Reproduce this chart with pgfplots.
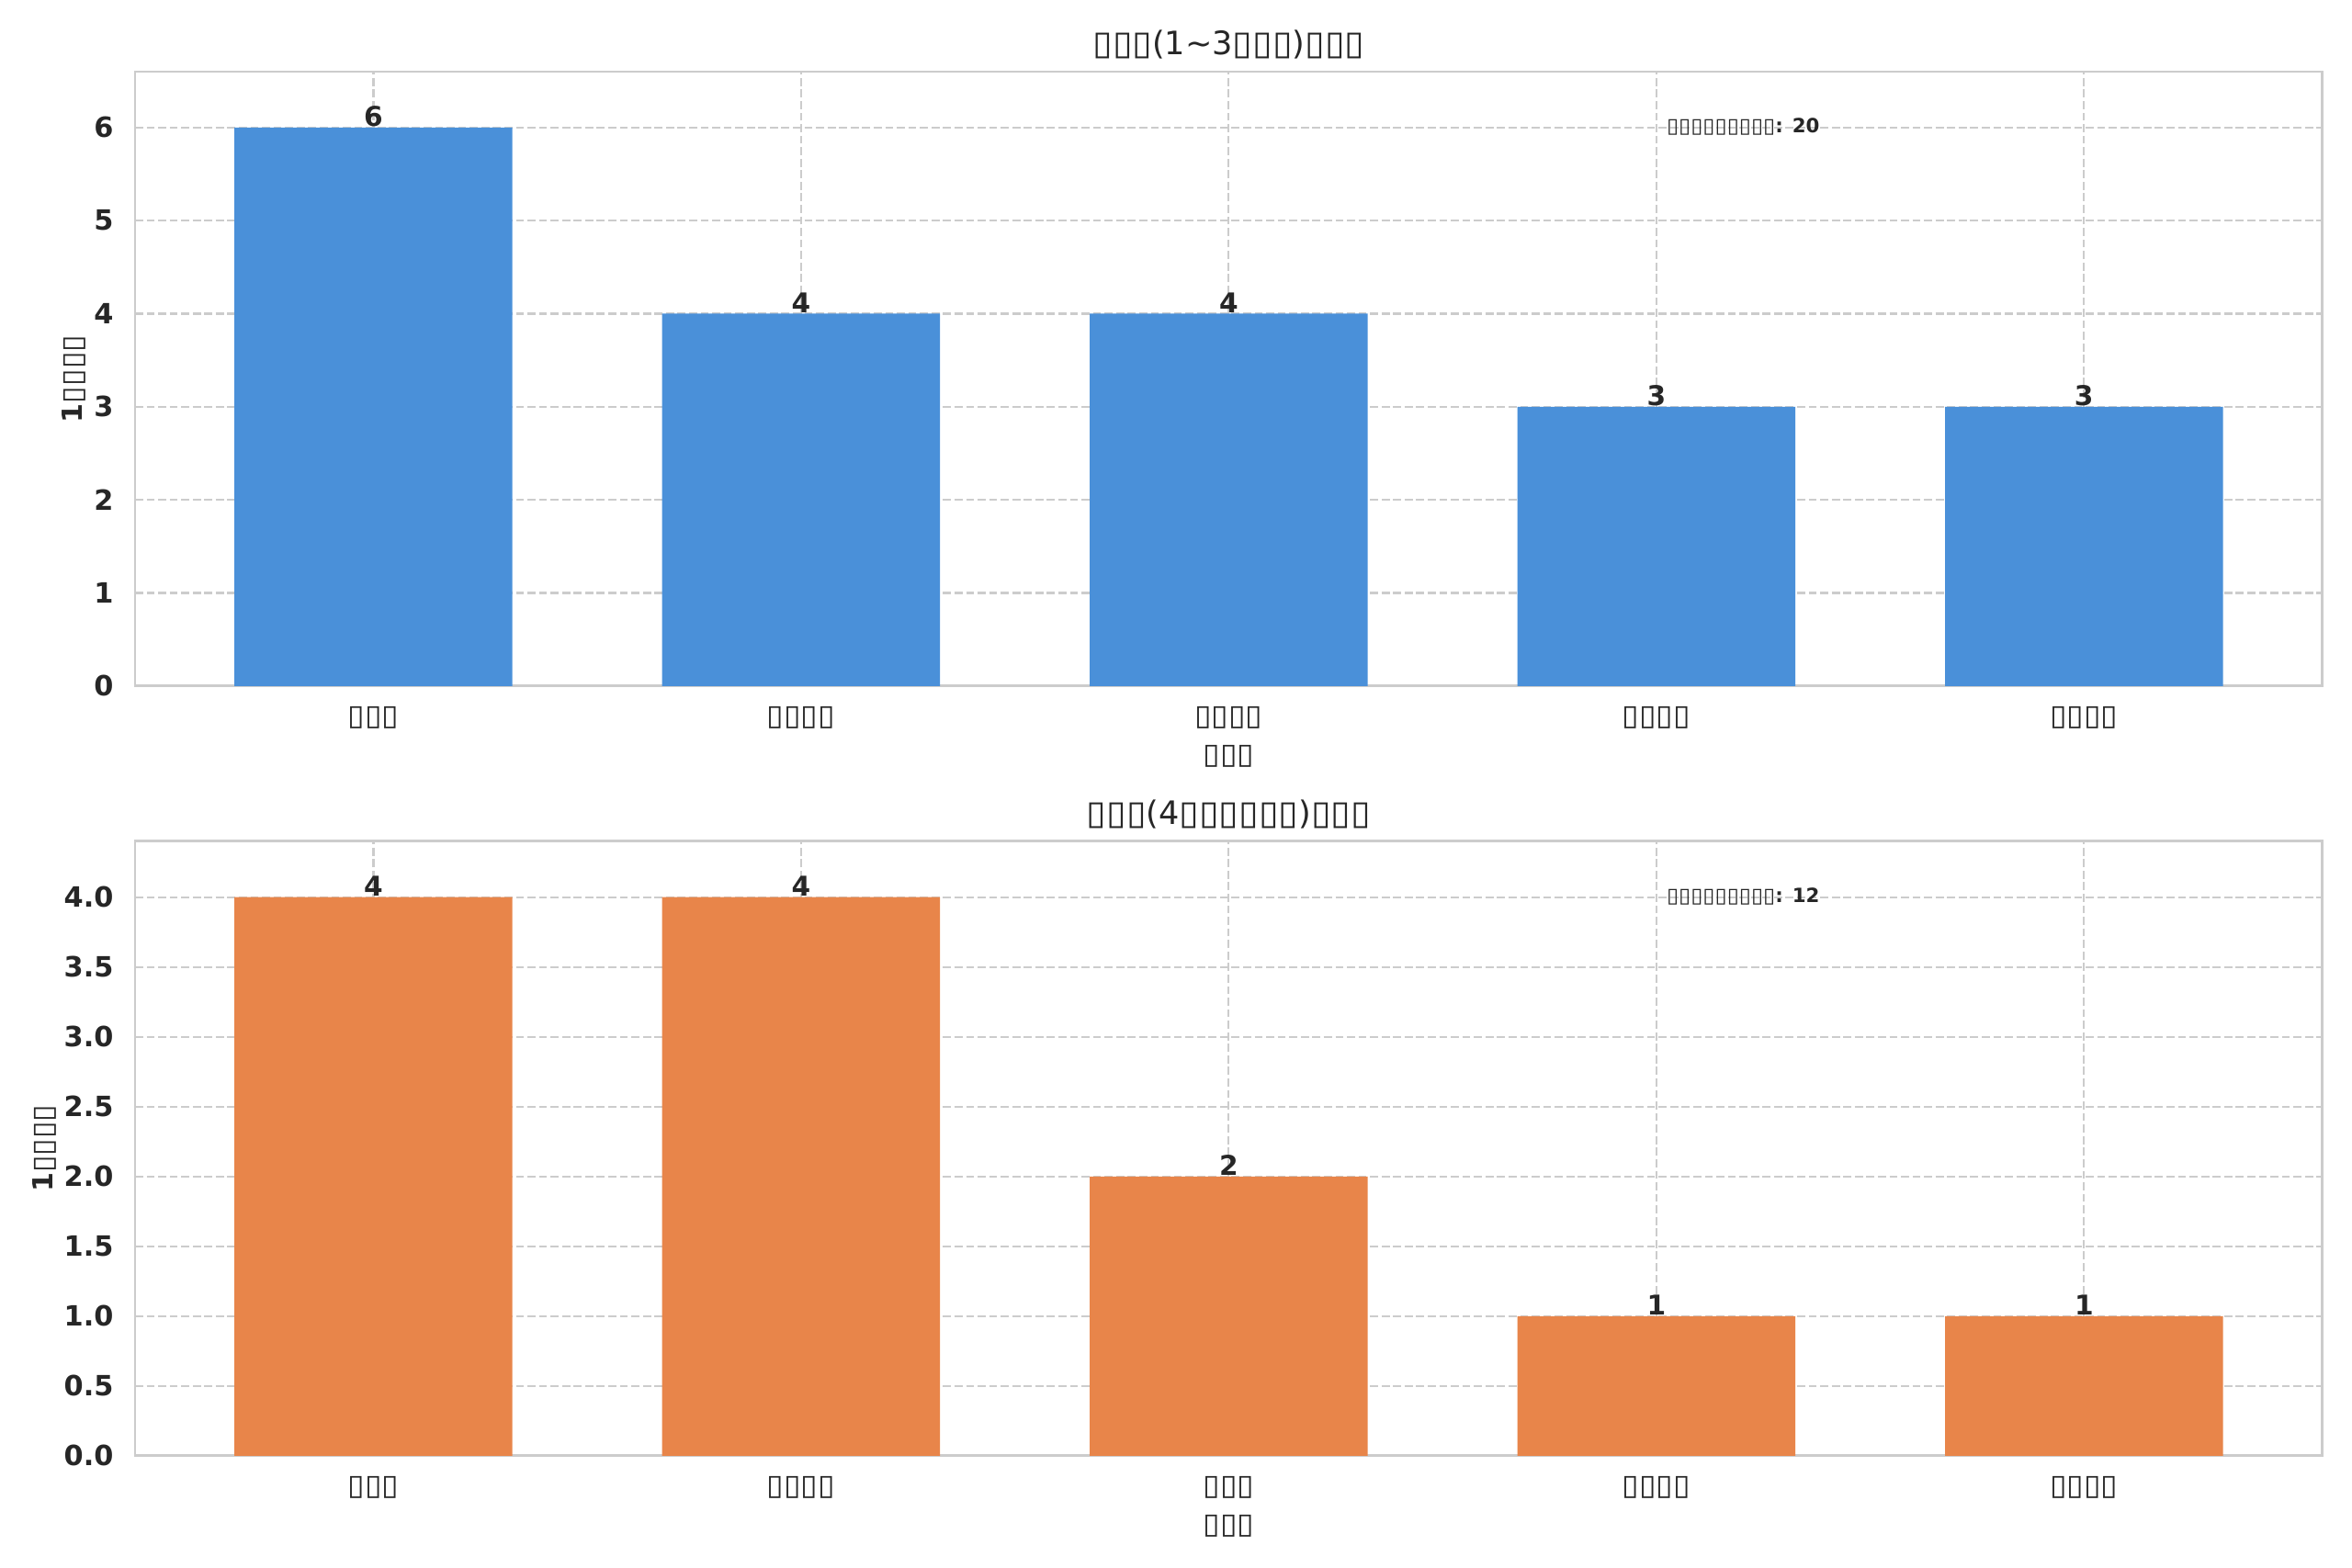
\documentclass[border=0pt]{standalone}
\usepackage{pgfplots}
\pgfplotsset{compat=1.18}
\usepackage{graphicx}
\usepackage{fontspec}
\setmainfont{DejaVu Sans}
\definecolor{txt}{HTML}{262626}
\definecolor{gridc}{HTML}{CCCCCC}
\definecolor{spinec}{HTML}{CCCCCC}
\definecolor{barblue}{HTML}{4A90D9}
\definecolor{barorange}{HTML}{E8854A}
\newcommand{\T}{\scalebox{1.12}[1.04]{▯}}
\pgfplotsset{
 mybar/.style={
  scale only axis, width=1004.4pt, height=282.2pt,
  xmin=-0.5575, xmax=4.5575, ymin=0,
  clip=false,
  ybar, bar width=0.65,
  xtick={0,1,2,3,4},
  major tick length=0pt,
  xmajorgrids, ymajorgrids,
  grid style={dash pattern=on 3.7pt off 1.6pt, line width=0.9pt, color=gridc},
  axis line style={draw=spinec, line width=1.2pt},
  /pgf/number format/assume math mode=true,
  yticklabel style={font=\bfseries\fontsize{12.8}{15}\selectfont, text=txt, anchor=east, inner sep=0pt, xshift=-9.7pt},
  xticklabel style={font=\fontsize{12.7}{15}\selectfont, text=txt, anchor=base, inner sep=0pt, yshift=-18.1pt},
  title style={font=\fontsize{14.8}{17}\selectfont, text=txt, anchor=base, at={(0.5,1)}, yshift=1.7pt, inner sep=0pt},
  nodes near coords,
  nodes near coords style={font=\bfseries\fontsize{12.5}{14}\selectfont, text=txt, anchor=base, inner sep=0pt, yshift=0.5pt},
 }
}
\begin{document}
\begin{tikzpicture}
\useasboundingbox (0,0) rectangle (1080pt,720pt);
\begin{axis}[mybar, at={(62pt,404.9pt)}, anchor=south west,
  ymax=6.6, ytick={0,1,2,3,4,5,6},
  xticklabels={\T\T\T,\T\T\T\T,\T\T\T\T,\T\T\T\T,\T\T\T\T},
  title={\T\T\T(1\textasciitilde3\T\T\T)\T\T\T}]
\addplot[fill=barblue, draw=none] coordinates {(0,6) (1,4) (2,4) (3,3) (4,3)};
\node[anchor=base west, font=\bfseries\fontsize{9.0}{11}\selectfont, text=txt, inner sep=0pt] at (rel axis cs:0.7,0.9) {\T\T\T\T\T\T\T\T\T: 20};
\node[rotate=90, font=\bfseries\fontsize{12.7}{15}\selectfont, text=txt, inner sep=0pt] at ([xshift=-28.25pt]rel axis cs:0,0.5) {1\T\T\T\T};
\node[anchor=base, font=\fontsize{12.7}{15}\selectfont, text=txt, inner sep=0pt] at ([yshift=-35.9pt]rel axis cs:0.5,0) {\T\T\T};
\end{axis}
\begin{axis}[mybar, at={(62pt,51.4pt)}, anchor=south west,
  ymax=4.4, ytick={0,0.5,1,1.5,2,2.5,3,3.5,4},
  yticklabel style={/pgf/number format/.cd, fixed, fixed zerofill, precision=1},
  xticklabels={\T\T\T,\T\T\T\T,\T\T\T,\T\T\T\T,\T\T\T\T},
  title={\T\T\T(4\T\T\T\T\T\T)\T\T\T}]
\addplot[fill=barorange, draw=none] coordinates {(0,4) (1,4) (2,2) (3,1) (4,1)};
\node[anchor=base west, font=\bfseries\fontsize{9.0}{11}\selectfont, text=txt, inner sep=0pt] at (rel axis cs:0.7,0.9) {\T\T\T\T\T\T\T\T\T: 12};
\node[rotate=90, font=\bfseries\fontsize{12.7}{15}\selectfont, text=txt, inner sep=0pt] at ([xshift=-41.75pt]rel axis cs:0,0.5) {1\T\T\T\T};
\node[anchor=base, font=\fontsize{12.7}{15}\selectfont, text=txt, inner sep=0pt] at ([yshift=-35.9pt]rel axis cs:0.5,0) {\T\T\T};
\end{axis}
\end{tikzpicture}
\end{document}
